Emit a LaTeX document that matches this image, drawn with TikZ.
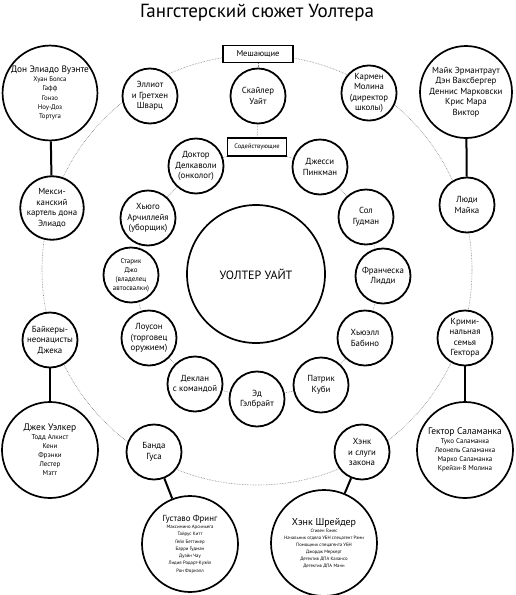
\documentclass[tikz,border=0pt]{standalone}
\usepackage{fontspec}
\setmainfont{PT Sans}
\begin{document}
\begin{tikzpicture}[x=1pt,y=-1pt,
  ring/.style={densely dotted, line width=0.6pt, gray},
  link/.style={densely dotted, line width=0.6pt, gray},
  stem/.style={line width=2pt},
  mid/.style={circle, draw, line width=1.8pt, fill=white, minimum size=55pt, inner sep=0pt, align=center, font=\fontsize{8.8}{10.5}\selectfont},
  big/.style={circle, draw, line width=1.7pt, fill=white, inner sep=0pt, align=center},
  tag/.style={draw, rectangle, line width=1.5pt, fill=white, inner sep=0pt, align=center}]
\useasboundingbox (0,0) rectangle (515,595);
\fill[white] (0,0) rectangle (515,595);

\node[anchor=base, font=\fontsize{19}{22}\selectfont] (title) at (257,17) {Гангстерский сюжет Уолтера};

\draw[ring] (257,270) circle[radius=215pt];

% centre
\node[big, minimum size=138pt, font=\fontsize{12}{14}\selectfont] (walter) at (256,274) {УОЛТЕР УАЙТ};

% boxes
\node[tag, minimum width=70pt, minimum height=17pt, font=\fontsize{8.5}{10}\selectfont] (hinder) at (258,54) {Мешающие};
\node[tag, minimum width=59pt, minimum height=18pt, font=\fontsize{6.5}{8}\selectfont] (help) at (257,147) {Содействующие};

% outer ring nodes
\node[mid] (elliot) at (150,96) {Эллиот\\и Гретхен\\Шварц};
\node[mid] (skyler) at (258,96) {Скайлер\\Уайт};
\node[mid] (carmen) at (369,93) {Кармен\\Молина\\(директор\\школы)};
\node[mid] (mexi) at (52,208) {Мекси-\\канский\\картель дона\\Элиадо};
\node[mid] (mikes) at (467,205) {Люди\\Майка};
\node[mid] (bikers) at (50,340) {Байкеры-\\неонацисты\\Джека};
\node[mid] (hfam) at (465,338) {Крими-\\нальная\\семья\\Гектора};
\node[mid] (gus) at (154,452) {Банда\\Гуса};
\node[mid] (law) at (362,452) {Хэнк\\и слуги\\закона};

% inner chain
\node[mid] (doctor) at (196,166) {Доктор\\Делкаволи\\(онколог)};
\node[mid] (hugo) at (148,218) {Хьюго\\Арчиллейя\\(уборщик)};
\node[mid, font=\fontsize{7}{9}\selectfont] (joe) at (131,275) {Старик\\Джо\\(владелец\\автосвалки)};
\node[mid] (lawson) at (149,338) {Лоусон\\(торговец\\оружием)};
\node[mid] (declan) at (195,384) {Деклан\\с командой};
\node[mid] (ed) at (257,399) {Эд\\Гэлбрайт};
\node[mid] (patrick) at (321,385) {Патрик\\Куби};
\node[mid] (huell) at (365,338) {Хьюэлл\\Бабино};
\node[mid] (franc) at (383,276) {Франческа\\Лидди};
\node[mid] (saul) at (366,217) {Сол\\Гудман};
\node[mid] (jesse) at (320,167) {Джесси\\Пинкман};

% big circles
\node[big, minimum size=94pt, font=\fontsize{6.8}{9.3}\selectfont] (don) at (50,93)
  {{\fontsize{9.3}{9}\selectfont Дон Элиадо Вуэнте}\\Хуан Болса\\Гафф\\Гонзо\\Ноу-Доз\\Тортуга};
\node[big, minimum size=92pt, font=\fontsize{8.8}{10.5}\selectfont] (mike) at (466,92)
  {Майк Эрмантраут\\Дэн Ваксбергер\\Деннис Марковски\\Крис Мара\\Виктор};
\node[big, minimum size=96pt, font=\fontsize{7}{9}\selectfont] (jack) at (50,450)
  {{\fontsize{9.5}{9}\selectfont Джек Уэлкер}\\Тодд Алкист\\Кени\\Фрэнки\\Лестер\\Мэтт};
\node[big, minimum size=96pt, font=\fontsize{7}{9}\selectfont] (hector) at (465,450)
  {{\fontsize{9.5}{9}\selectfont Гектор Саламанка}\\Туко Саламанка\\Леонель Саламанка\\Марко Саламанка\\Крейзи-8 Молина};
\node[big, minimum size=96pt, font=\fontsize{4.8}{7.3}\selectfont] (gustavo) at (190,544)
  {{\fontsize{8.8}{9}\selectfont Густаво Фринг}\\Максимино Арсиньега\\Тайрус Китт\\Гейл Беттикер\\Барри Гудман\\Дуэйн Чау\\Лидия Родарт-Куэйл\\Рон Форнэлл};
\node[big, minimum size=106pt, font=\fontsize{4.7}{7}\selectfont] (hank) at (324,543)
  {{\fontsize{10}{9}\selectfont Хэнк Шрейдер}\\Стивен Гомес\\Начальник отдела УБН спецагент Рэми\\Помощник спецагента УБН\\Джордж Меркерт\\Детектив ДПА Калансо\\Детектив ДПА Манн};

% stems
\draw[stem] (don) -- (mexi);
\draw[stem] (mike) -- (mikes);
\draw[stem] (bikers) -- (jack);
\draw[stem] (hfam) -- (hector);
\draw[stem] (gus) -- (gustavo);
\draw[stem] (law) -- (hank);

% dotted links
\draw[link] (hinder) -- (skyler);
\draw[link] (skyler) -- (help);
\draw[link] (help) -- (doctor);
\draw[link] (help) -- (jesse);
\draw[link] (doctor) -- (hugo);
\draw[link] (hugo) -- (joe);
\draw[link] (joe) -- (lawson);
\draw[link] (lawson) -- (declan);
\draw[link] (declan) -- (ed);
\draw[link] (ed) -- (patrick);
\draw[link] (patrick) -- (huell);
\draw[link] (huell) -- (franc);
\draw[link] (franc) -- (saul);
\draw[link] (saul) -- (jesse);
\end{tikzpicture}
\end{document}
